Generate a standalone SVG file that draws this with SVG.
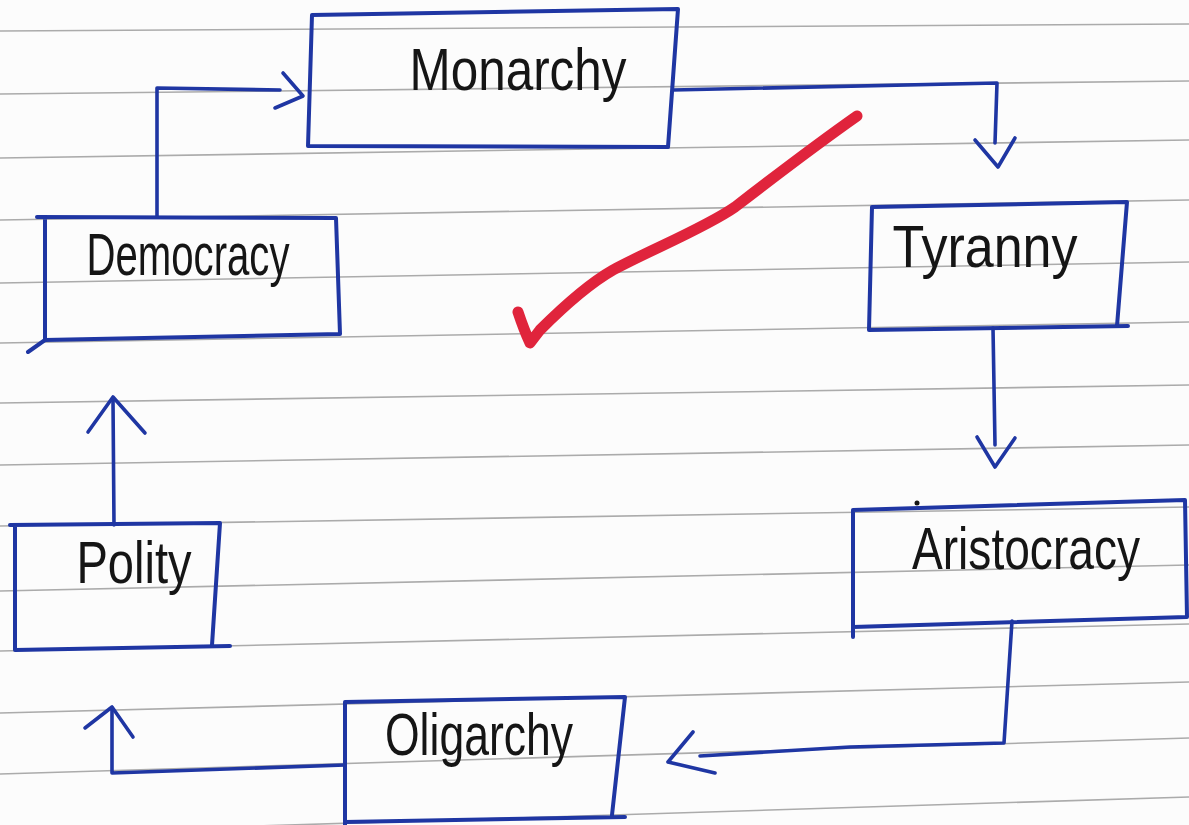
<svg xmlns="http://www.w3.org/2000/svg" width="1189" height="825" viewBox="0 0 1189 825">
<style>
.rule{stroke:#ababab;stroke-width:1.6;fill:none}
.box{fill:none;stroke:#1f36a3;stroke-width:4;stroke-linejoin:round;stroke-linecap:round}
.conn{fill:none;stroke:#1f36a3;stroke-width:3.6;stroke-linejoin:round;stroke-linecap:round}
.lbl{font-family:"Liberation Sans",Arial,sans-serif;font-size:60px;fill:#151515}
.check{fill:none;stroke:#e0243c;stroke-width:11;stroke-linecap:round;stroke-linejoin:round}
</style>
<rect x="0" y="0" width="1189" height="825" fill="#fcfcfc"/>
<g id="paper">
<path class="rule" d="M0,31 L1189,24"/>
<path class="rule" d="M0,94 L1189,81"/>
<path class="rule" d="M0,158 L1189,140"/>
<path class="rule" d="M0,220 L1189,200"/>
<path class="rule" d="M0,283 L1189,262"/>
<path class="rule" d="M0,343 L1189,322"/>
<path class="rule" d="M0,403 L1189,385"/>
<path class="rule" d="M0,465 L1189,445"/>
<path class="rule" d="M0,526 L1189,507"/>
<path class="rule" d="M0,591 L1189,565"/>
<path class="rule" d="M0,651 L1189,624"/>
<path class="rule" d="M0,713 L1189,682"/>
<path class="rule" d="M0,774 L1189,738"/>
<path class="rule" d="M0,834 L1189,797"/>
</g>
<g id="connectors">
<path class="conn" d="M157,217 L157,88 L280,90"/>
<path class="conn" d="M283,73 L303,96 L275,108"/>
<path class="conn" d="M673,90 L997,83 L995,143"/>
<path class="conn" d="M975,140 L998,167 L1015,138"/>
<path class="conn" d="M993,328 L995,445"/>
<path class="conn" d="M977,437 L995,467 L1015,438"/>
<path class="conn" d="M1012,621 L1004,743 L850,747 L700,756"/>
<path class="conn" d="M693,732 L668,762 L715,773"/>
<path class="conn" d="M345,765 L112,773 L112,708"/>
<path class="conn" d="M85,728 L112,707 L133,737"/>
<path class="conn" d="M114,525 L113,400"/>
<path class="conn" d="M88,432 L113,397 L145,433"/>
</g>
<g id="monarchy">
<path class="box" d="M312,15 L678,9 L668,147 L308,146 Z"/>
<text class="lbl" x="518" y="90" text-anchor="middle" textLength="217" lengthAdjust="spacingAndGlyphs" font-size="64">Monarchy</text>
</g>
<g id="democracy">
<path class="box" d="M37,217 L336,218 L340,334 L45,340 L28,352 M45,217 L45,340"/>
<text class="lbl" x="188" y="275" text-anchor="middle" textLength="203" lengthAdjust="spacingAndGlyphs">Democracy</text>
</g>
<g id="tyranny">
<path class="box" d="M872,207 L1127,202 L1117,326 M869,330 L1128,326 M872,207 L869,330"/>
<text class="lbl" x="985" y="267" text-anchor="middle" textLength="185" lengthAdjust="spacingAndGlyphs" font-size="64">Tyranny</text>
</g>
<g id="aristocracy">
<path class="box" d="M853,510 L1185,500 L1187,617 L853,627 M853,510 L853,637"/>
<circle cx="917" cy="503" r="2.5" fill="#151515"/>
<text class="lbl" x="1026" y="569" text-anchor="middle" textLength="228" lengthAdjust="spacingAndGlyphs" font-size="55">Aristocracy</text>
</g>
<g id="polity">
<path class="box" d="M10,525 L220,523 L212,645 M15,650 L230,646 M15,525 L15,650"/>
<text class="lbl" x="134" y="583" text-anchor="middle" textLength="115" lengthAdjust="spacingAndGlyphs" font-size="66">Polity</text>
</g>
<g id="oligarchy">
<path class="box" d="M345,702 L625,697 L612,815 M345,822 L625,817 M345,702 L345,825"/>
<text class="lbl" x="479" y="755" text-anchor="middle" textLength="188" lengthAdjust="spacingAndGlyphs" font-size="62">Oligarchy</text>
</g>
<g id="checkmark">
<path class="check" d="M857,116 C 830,135 770,180 735,207 C 705,228 650,250 613,270 C 585,286 560,310 540,330 L530,343 Q 524,330 518,312"/>
</g>
</svg>
